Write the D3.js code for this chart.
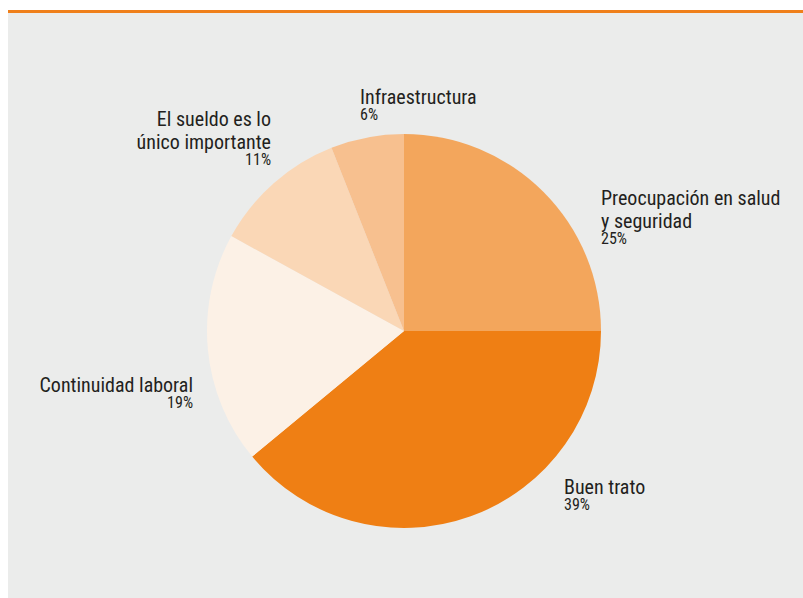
<!DOCTYPE html>
<html>
<head>
<meta charset="utf-8">
<script src="https://cdn.jsdelivr.net/npm/d3@7"></script>
<style>
  body { margin: 0; background: #ffffff; }
  svg text { font-family: "Liberation Sans Narrow", "Arial Narrow", "Roboto Condensed", "Liberation Sans", sans-serif; fill: #231f20; }
</style>
</head>
<body>
<div id="chart"></div>
<script>
// data
const categories = ["Preocupación en salud|y seguridad", "Buen trato", "Continuidad laboral", "El sueldo es lo|único importante", "Infraestructura"];
const values = [25, 39, 19, 11, 6];
const colors = ["#f3a65c", "#ef7f14", "#fcf1e6", "#fad7b6", "#f7c08f"];

// label layout: offset from pie center, anchor
const labelLayout = [
    {dx: 197, dy: -126, anchor: "start"},
    {dx: 160, dy: 163, anchor: "start"},
    {dx: -211, dy: 61, anchor: "end"},
    {dx: -133, dy: -205, anchor: "end"},
    {dx: -44, dy: -227, anchor: "start"}
];

const W = 803, H = 598;
const svg = d3.select("#chart").append("svg")
    .attr("width", W)
    .attr("height", H);

// panel
svg.append("rect")
    .attr("x", 8).attr("y", 12)
    .attr("width", W - 8).attr("height", H - 12)
    .attr("fill", "#ebeceb");

svg.append("rect")
    .attr("x", 8).attr("y", 10)
    .attr("width", W - 8).attr("height", 3)
    .attr("fill", "#ef7f1a");

const cx = 404, cy = 331, radius = 197;

const data = categories.map((c, i) => ({label: c, value: values[i], color: colors[i], layout: labelLayout[i]}));

const pie = d3.pie().sort(null).value(d => d.value);
const arc = d3.arc().innerRadius(0).outerRadius(radius);

const g = svg.append("g").attr("transform", `translate(${cx},${cy})`);

g.selectAll("path")
    .data(pie(data))
    .enter()
    .append("path")
    .attr("d", arc)
    .attr("fill", d => d.data.color);

// labels
const labels = g.selectAll(".label")
    .data(data)
    .enter()
    .append("text")
    .attr("class", "label")
    .attr("text-anchor", d => d.layout.anchor)
    .attr("transform", d => `translate(${d.layout.dx},${d.layout.dy})`);

labels.each(function(d) {
    let t = d3.select(this);
    let lines = d.label.split("|");
    lines.forEach((l, i) => {
        t.append("tspan")
            .attr("x", 0)
            .attr("y", i * 23)
            .style("font-size", "20px")
            .text(l);
    });
    t.append("tspan")
        .attr("x", 0)
        .attr("y", (lines.length - 1) * 23 + 16)
        .style("font-size", "16px")
        .text(d.value + "%");
});
</script>
</body>
</html>
